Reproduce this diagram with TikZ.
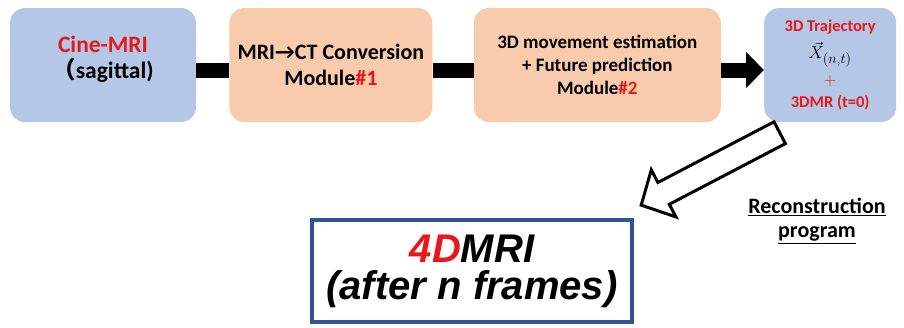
\documentclass[tikz,border=0pt]{standalone}
\usepackage{fontspec}
\setmainfont{Carlito}
\newfontfamily\arialfont{Liberation Sans}
\newfontfamily\cjk{Noto Sans CJK JP}
\usetikzlibrary{positioning, arrows.meta, calc}
\definecolor{boxblue}{HTML}{B4C7E7}
\definecolor{boxorange}{HTML}{F8CBAD}
\definecolor{txtred}{HTML}{E81818}
\definecolor{frameblue}{HTML}{2F5597}

\begin{document}
\begin{tikzpicture}[
    x=1pt, y=1pt,
    stagebox/.style={rectangle, rounded corners=15pt, minimum height=114pt, inner sep=0pt, align=center, font=\bfseries\fontsize{22}{26}\selectfont},
    bar/.style={line width=15pt},
    hollow/.style={draw, line width=3pt, fill=white, line join=miter}
]
    \useasboundingbox (0,0) rectangle (904,-327);

    \node[stagebox, fill=boxblue, minimum width=186pt] (cine) at (103,-65) {};
    \node[align=center, font=\bfseries\fontsize{23.5}{26.5}\selectfont] (cinetext) at ([yshift=6pt]cine.center) {\textcolor{txtred}{Cine-MRI}\\{\cjk （}sagittal)};
    \node[stagebox, fill=boxorange, minimum width=203pt] (conv) [right=33pt of cine] {MRI→CT Conversion\\Module\textcolor{txtred}{\#1}};
    \node[stagebox, fill=boxorange, minimum width=247pt, font=\bfseries\fontsize{19}{23}\selectfont] (pred) [right=41pt of conv] {3D movement estimation\\+ Future prediction\\Module\textcolor{txtred}{\#2}};
    \node[stagebox, fill=boxblue, minimum width=132pt, font=\bfseries\fontsize{16.5}{22}\selectfont] (traj) [right=43pt of pred] {\textcolor{txtred}{3D Trajectory}\\[5pt]{\fontsize{19}{19}\selectfont$\vec{X}_{(n,t)}$}\\[5pt]\textcolor{txtred}{$+$}\\\textcolor{txtred}{3DMR (t=0)}};

    \node[draw=frameblue, line width=3.5pt, minimum width=320pt, minimum height=102pt, align=center, font=\arialfont\bfseries\itshape\fontsize{40}{37}\selectfont] (result) at (472,-271) {\textcolor{txtred}{4D}MRI\\(after n frames)};

    \node[align=center, font=\bfseries\fontsize{22}{24}\selectfont] (recon) at (817,-221) {\underline{Reconstruction}\\\underline{program}};

    % pipeline
    \draw[bar] ([yshift=-5pt]cine.east) -- ([yshift=-5pt]conv.west);
    \draw[bar] ([yshift=-5pt]conv.east) -- ([yshift=-5pt]pred.west);
    \draw[bar, -{Triangle[length=18pt, width=35pt]}] ([yshift=-5pt]pred.east) -- ([yshift=-5pt]traj.west);

    % reconstruction arrow
    \coordinate (rtail) at ([shift={(-50.5pt,-10.5pt)}]traj.south);
    \begin{scope}[shift={(rtail)}, rotate=207.6]
        \draw[hollow] (0,12.3) -- (131,12.3) -- (131,26.6) -- (156.3,0) -- (131,-26.6) -- (131,-12.3) -- (0,-12.3) -- cycle;
    \end{scope}
\end{tikzpicture}
\end{document}
